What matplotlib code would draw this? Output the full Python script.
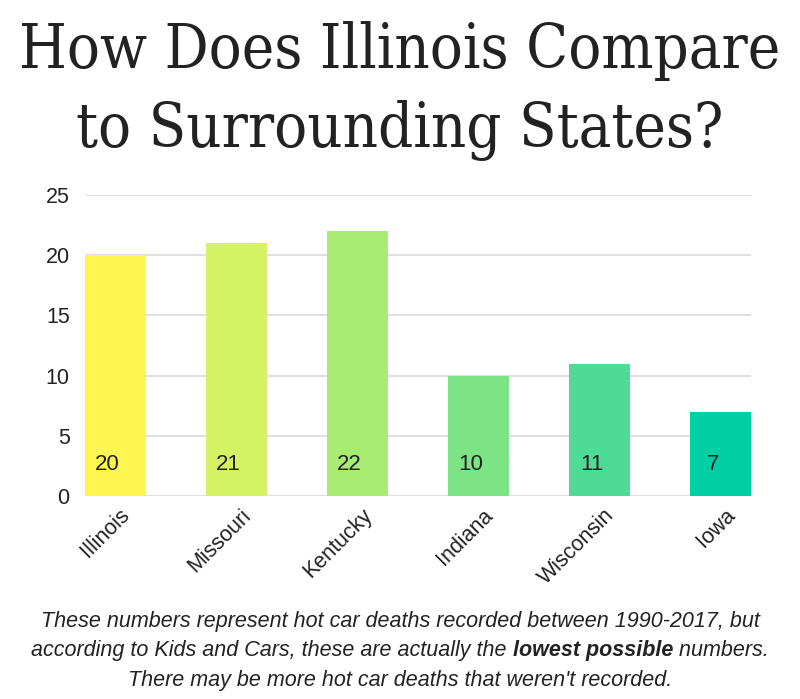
import matplotlib
matplotlib.use("Agg")
import matplotlib.pyplot as plt
import matplotlib.transforms as mtransforms

# ---------- 数据 ----------
states = ["Illinois", "Missouri", "Kentucky", "Indiana", "Wisconsin", "Iowa"]
deaths = [20, 21, 22, 10, 11, 7]
colors = ["#FFF550", "#D4F264", "#A8EC72", "#7DE485", "#4FDB94", "#00CFA5"]
yticks = [0, 5, 10, 15, 20, 25]

title_lines = ["How Does Illinois Compare", "to Surrounding States?"]
caption_1 = "These numbers represent hot car deaths recorded between 1990-2017, but"
caption_2 = ["according to Kids and Cars, these are actually the ", "lowest possible", " numbers."]
caption_3 = "There may be more hot car deaths that weren't recorded."

TXT = "#222222"
plt.rcParams["font.family"] = ["Liberation Sans", "DejaVu Sans"]

fig = plt.figure(figsize=(8, 6.99), dpi=100)
W, H = 800, 699
ax = fig.add_axes([85 / W, 203 / H, 666 / W, 301 / H])

x = range(len(states))
ax.bar(x, deaths, width=0.5, color=colors, zorder=2)
for i, v in enumerate(deaths):
    ax.text(i - 0.066, 2.6, str(v), ha="center", va="center", fontsize=16, color=TXT, zorder=3)

ax.set_xlim(-0.25, 5.25)
ax.set_ylim(0, 25)
ax.set_yticks(yticks)
ax.yaxis.grid(True, color="#D9D9D9", linewidth=1.2, zorder=0)
ax.set_axisbelow(True)
for s in ax.spines.values():
    s.set_visible(False)
ax.tick_params(axis="both", length=0, labelsize=15.5, labelcolor=TXT)
ax.tick_params(axis="y", pad=11)
ax.set_xticks(list(x))
ax.set_xticklabels(states, rotation=45, ha="right", rotation_mode="anchor", fontsize=15.5)
offset = mtransforms.ScaledTranslation(4 / 100, -4 / 100, fig.dpi_scale_trans)
for lab in ax.get_xticklabels():
    lab.set_transform(lab.get_transform() + offset)

# 标题（窄体衬线）
title_font = dict(family=["DejaVu Serif"], fontstretch="condensed", fontsize=44, color=TXT,
                  ha="center", va="baseline")
fig.text(0.5, 1 - 68 / H, title_lines[0], **title_font)
fig.text(0.5, 1 - 147 / H, title_lines[1], **title_font)

# 说明文字
cap_font = dict(family=["Liberation Sans", "DejaVu Sans"], fontsize=15.5,
                style="italic", color=TXT, va="baseline")
fig.text(0.5, 1 - 627 / H, caption_1, ha="center", **cap_font)
fig.text(0.5, 1 - 686 / H, caption_3, ha="center", **cap_font)

# 第二行：中间一段加粗，逐段拼接后整体居中
renderer = fig.canvas.get_renderer()
parts = []
for j, seg in enumerate(caption_2):
    t = fig.text(0, 1 - 656 / H, seg, ha="left", fontweight="bold" if j == 1 else "normal", **cap_font)
    parts.append(t)
widths = [p.get_window_extent(renderer).width for p in parts]
start = (W - sum(widths)) / 2
for p, w in zip(parts, widths):
    p.set_x(start / W)
    start += w

fig.savefig("out.png", dpi=100)
